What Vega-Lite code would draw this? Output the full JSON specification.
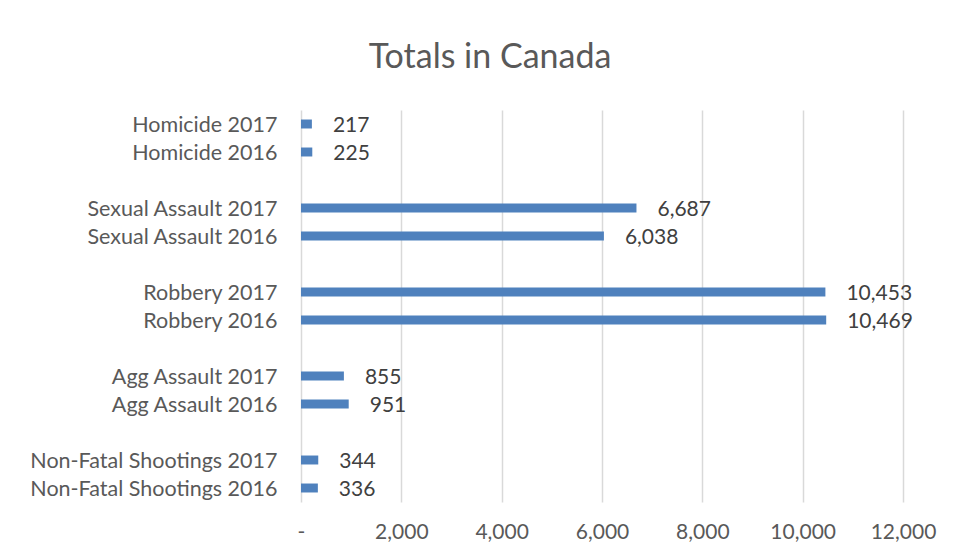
{
  "$schema": "https://vega.github.io/schema/vega-lite/v6.json",
  "autosize": "none",
  "width": 602,
  "height": 392,
  "padding": {"left": 301, "top": 110, "right": 67, "bottom": 54},
  "background": "white",
  "title": {
    "text": "Totals in Canada",
    "font": "Lato",
    "fontSize": 34,
    "fontWeight": "normal",
    "color": "#595959",
    "anchor": "middle",
    "offset": 35,
    "dx": -112
  },
  "data": {
    "values": [
      {"category": "Homicide 2017", "value": 217},
      {"category": "Homicide 2016", "value": 225},
      {"category": "Sexual Assault 2017", "value": 6687},
      {"category": "Sexual Assault 2016", "value": 6038},
      {"category": "Robbery 2017", "value": 10453},
      {"category": "Robbery 2016", "value": 10469},
      {"category": "Agg Assault 2017", "value": 855},
      {"category": "Agg Assault 2016", "value": 951},
      {"category": "Non-Fatal Shootings 2017", "value": 344},
      {"category": "Non-Fatal Shootings 2016", "value": 336}
    ]
  },
  "encoding": {
    "y": {
      "field": "category",
      "type": "nominal",
      "sort": null,
      "scale": {
        "domain": ["Homicide 2017", "Homicide 2016", "gap1", "Sexual Assault 2017", "Sexual Assault 2016", "gap2", "Robbery 2017", "Robbery 2016", "gap3", "Agg Assault 2017", "Agg Assault 2016", "gap4", "Non-Fatal Shootings 2017", "Non-Fatal Shootings 2016"],
        "paddingInner": 0.68,
        "paddingOuter": 0.34
      },
      "axis": {
        "title": null,
        "domain": false,
        "ticks": false,
        "labelPadding": 24,
        "labelOffset": 2,
        "labelLimit": 0,
        "labelFont": "Lato",
        "labelFontSize": 21.5,
        "labelColor": "#595959",
        "labelExpr": "indexof(datum.label, 'gap') == 0 ? '' : datum.label"
      }
    },
    "x": {
      "field": "value",
      "type": "quantitative",
      "scale": {"domain": [0, 12000], "nice": false},
      "axis": {
        "title": null,
        "values": [0, 2000, 4000, 6000, 8000, 10000, 12000],
        "domain": false,
        "ticks": false,
        "grid": true,
        "gridColor": "#d9d9d9",
        "gridWidth": 1.5,
        "labelFlush": false,
        "labelPadding": 19,
        "labelFont": "Lato",
        "labelFontSize": 21,
        "labelColor": "#595959",
        "labelExpr": "datum.value == 0 ? '-' : format(datum.value, ',')"
      }
    }
  },
  "layer": [
    {
      "mark": {"type": "bar", "color": "#4F81BD"}
    },
    {
      "mark": {"type": "text", "align": "left", "dx": 21, "dy": 2, "font": "Lato", "fontSize": 21, "color": "#404040"},
      "encoding": {
        "text": {"field": "value", "type": "quantitative", "format": ","}
      }
    }
  ],
  "config": {
    "view": {"stroke": null}
  }
}
